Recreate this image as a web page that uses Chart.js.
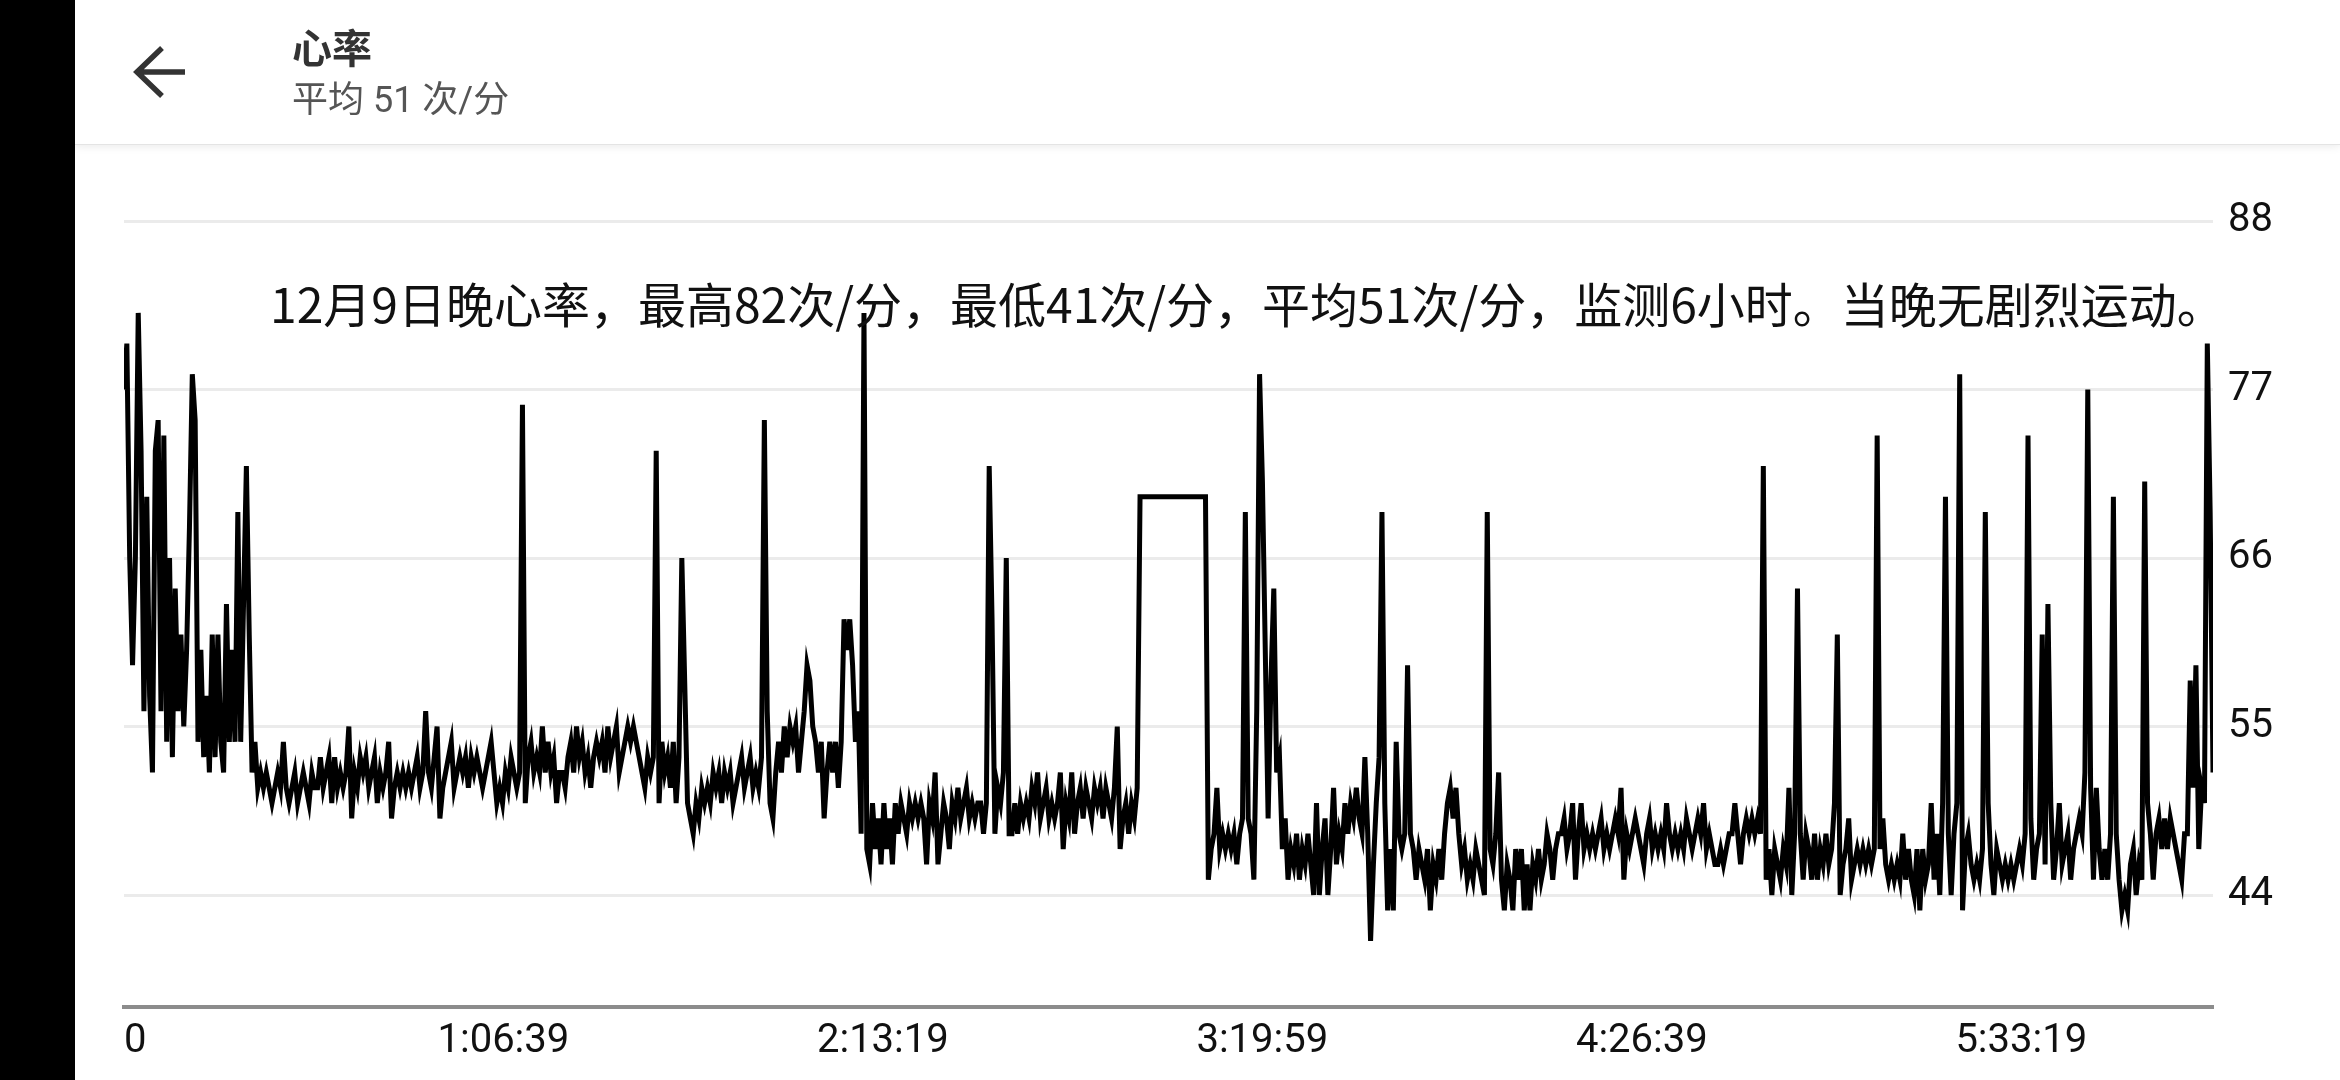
<!DOCTYPE html>
<html lang="zh-CN">

<head>
    <meta charset="UTF-8">
    <meta name="viewport" content="width=device-width, initial-scale=1.0">
    <title>心率</title>
    <style>
        html, body {
            margin: 0;
            padding: 0;
            width: 2340px;
            height: 1080px;
            overflow: hidden;
            background: #fff;
            font-family: "Roboto", "Noto Sans CJK SC", sans-serif;
        }
        .side-bar {
            position: absolute;
            left: 0;
            top: 0;
            width: 75px;
            height: 1080px;
            background: #000;
            z-index: 5;
        }
        .top-bar {
            position: absolute;
            left: 75px;
            top: 0;
            width: 2265px;
            height: 144px;
            background: #fff;
            border-bottom: 1px solid #e4e4e4;
            box-shadow: 0 2px 8px rgba(0, 0, 0, 0.08);
            z-index: 4;
        }
        .back {
            position: absolute;
            left: 56px;
            top: 44px;
        }
        .title-1 {
            position: absolute;
            left: 292px;
            top: 26px;
            font-size: 40px;
            line-height: 48px;
            font-weight: bold;
            color: #333;
        }
        .sub-title-1 {
            position: absolute;
            left: 292px;
            top: 78px;
            font-size: 36px;
            line-height: 44px;
            color: #555;
        }
        .chart-box {
            position: absolute;
            left: 0;
            top: 150px;
            width: 2340px;
            height: 930px;
        }
        .note {
            position: absolute;
            left: 270px;
            top: 272px;
            font-family: "Noto Sans CJK SC", sans-serif;
            font-size: 48px;
            line-height: 60px;
            color: #111;
            white-space: nowrap;
            z-index: 3;
        }
    </style>
    <script src="https://cdn.jsdelivr.net/npm/chart.js@4.4.1/dist/chart.umd.min.js"></script>
</head>

<body>
    <div class="side-bar"></div>
    <div class="top-bar">
        <svg class="back" width="60" height="56" viewBox="0 0 60 56">
            <path d="M 31 4 L 6 28 L 31 52 M 6 28 L 54 28" fill="none" stroke="#333" stroke-width="5.5" />
        </svg>
    </div>
    <div class="title-1" style="z-index: 6">心率</div>
    <div class="sub-title-1" style="z-index: 6">平均 51 次/分</div>
    <div class="chart-box">
        <canvas id="chartHeartRate"></canvas>
    </div>
    <div class="note">12月9日晚心率，最高82次/分，最低41次/分，平均51次/分，监测6小时。当晚无剧烈运动。</div>

    <script>
        // one reading every 30 seconds
        var sampleSec = 30
        var bpm = [
            77, 80, 66, 59, 66, 82, 73, 56, 70, 57,
            52, 73, 75, 56, 74, 54, 66, 53, 64, 56,
            61, 55, 60, 68, 78, 75, 54, 60, 53, 57,
            52, 61, 53, 61, 54, 52, 63, 54, 60, 54,
            69, 54, 63, 72, 61, 52, 54, 51, 52, 51,
            52, 51, 50, 51, 52, 51, 54, 51, 50, 51,
            52, 50, 51, 52, 51, 50, 52, 51, 51, 53,
            51, 52, 53, 50, 53, 51, 52, 51, 52, 55,
            49, 52, 51, 53, 52, 53, 51, 52, 53, 50,
            52, 51, 52, 54, 49, 51, 52, 51, 52, 51,
            52, 51, 52, 53, 51, 52, 56, 52, 51, 53,
            55, 49, 51, 52, 53, 54, 51, 52, 53, 52,
            53, 51, 53, 52, 53, 52, 51, 52, 53, 54,
            52, 50, 51, 50, 52, 51, 53, 52, 51, 52,
            76, 50, 53, 54, 52, 53, 52, 55, 52, 54,
            52, 53, 50, 52, 52, 51, 53, 54, 52, 55,
            53, 54, 52, 53, 51, 53, 54, 53, 54, 52,
            55, 53, 54, 55, 52, 53, 54, 55, 54, 55,
            54, 53, 52, 51, 53, 52, 53, 73, 50, 54,
            52, 53, 51, 54, 50, 53, 66, 58, 50, 49,
            48, 50, 49, 51, 50, 51, 50, 52, 51, 52,
            50, 52, 51, 52, 50, 51, 52, 53, 51, 52,
            53, 51, 52, 51, 53, 75, 56, 50, 49, 52,
            54, 52, 55, 53, 55, 54, 55, 52, 54, 56,
            59, 58, 55, 54, 52, 54, 49, 52, 54, 52,
            54, 51, 54, 62, 60, 62, 59, 54, 56, 48,
            82, 47, 46, 50, 47, 49, 46, 50, 47, 49,
            46, 50, 48, 50, 49, 48, 50, 49, 50, 49,
            50, 49, 46, 50, 49, 52, 46, 48, 50, 49,
            47, 50, 49, 51, 49, 50, 51, 49, 50, 49,
            50, 50, 48, 50, 72, 62, 48, 51, 50, 52,
            66, 48, 48, 50, 48, 50, 49, 50, 49, 51,
            50, 52, 49, 50, 51, 49, 50, 49, 50, 52,
            47, 50, 49, 52, 48, 50, 51, 49, 51, 50,
            49, 51, 50, 51, 49, 51, 50, 49, 51, 55,
            47, 49, 50, 48, 50, 49, 51, 70, 70, 70,
            70, 70, 70, 70, 70, 70, 70, 70, 70, 70,
            70, 70, 70, 70, 70, 70, 70, 70, 70, 70,
            70, 45, 47, 48, 51, 47, 48, 47, 48, 47,
            48, 46, 48, 49, 69, 49, 48, 45, 56, 78,
            71, 60, 49, 58, 64, 52, 53, 47, 49, 45,
            47, 46, 48, 45, 47, 46, 48, 46, 44, 50,
            44, 47, 49, 44, 47, 51, 46, 48, 47, 50,
            48, 50, 49, 51, 49, 48, 53, 48, 41, 46,
            50, 53, 69, 50, 43, 47, 43, 54, 48, 47,
            48, 59, 48, 47, 45, 47, 46, 45, 47, 43,
            46, 45, 47, 45, 48, 50, 51, 49, 51, 48,
            46, 47, 45, 46, 45, 47, 46, 45, 44, 69,
            47, 46, 48, 52, 45, 43, 46, 45, 43, 47,
            45, 47, 43, 46, 43, 46, 45, 47, 45, 46,
            48, 47, 45, 47, 48, 48, 49, 47, 48, 50,
            45, 48, 50, 47, 48, 47, 48, 47, 48, 49,
            47, 48, 47, 48, 49, 48, 51, 45, 48, 47,
            48, 49, 48, 47, 46, 48, 49, 47, 48, 47,
            48, 47, 50, 48, 47, 48, 47, 48, 47, 49,
            48, 47, 48, 49, 48, 50, 47, 48, 47, 46,
            46, 47, 46, 47, 48, 48, 50, 48, 46, 48,
            49, 48, 49, 48, 49, 48, 72, 45, 47, 44,
            47, 46, 45, 47, 46, 51, 44, 48, 64, 48,
            45, 48, 47, 45, 48, 45, 47, 46, 48, 46,
            47, 50, 61, 44, 46, 47, 49, 45, 46, 47,
            46, 47, 46, 47, 46, 47, 74, 47, 49, 46,
            45, 46, 45, 46, 45, 48, 45, 47, 45, 44,
            47, 43, 47, 45, 46, 50, 45, 48, 44, 50,
            70, 48, 44, 48, 50, 78, 43, 47, 48, 46,
            45, 46, 45, 47, 69, 50, 46, 44, 47, 46,
            45, 46, 45, 46, 45, 46, 47, 46, 48, 74,
            49, 45, 47, 48, 61, 46, 63, 50, 45, 47,
            50, 46, 47, 48, 45, 47, 48, 49, 48, 52,
            77, 51, 45, 51, 47, 45, 47, 45, 48, 70,
            48, 45, 43, 44, 43, 46, 47, 44, 46, 45,
            71, 50, 48, 45, 48, 49, 47, 49, 47, 49,
            48, 47, 46, 45, 48, 48, 58, 51, 59, 47,
            51, 50, 80, 69, 52
        ]
        var xTickValues = [0, 3999, 7999, 11999, 15999, 19999]
        var xTickLabels = ['0', '1:06:39', '2:13:19', '3:19:59', '4:26:39', '5:33:19']
        var yTickValues = [44, 55, 66, 77, 88]

        var points = bpm.map(function (v, i) {
            return { x: i * sampleSec, y: v }
        })

        var ctx = document.getElementById('chartHeartRate').getContext('2d');
        var heartChart = new Chart(ctx, {
            type: 'line',
            data: {
                datasets: [{
                    label: '心率',
                    data: points,
                    borderColor: '#000',
                    borderWidth: 5,
                    pointRadius: 0,
                    tension: 0,
                    fill: false
                }]
            },
            options: {
                responsive: true,
                maintainAspectRatio: false,
                animation: false,
                layout: {
                    padding: { left: 124, right: 0, top: 71, bottom: 0 }
                },
                plugins: {
                    legend: { display: false },
                    tooltip: { enabled: false }
                },
                scales: {
                    x: {
                        type: 'linear',
                        min: 0,
                        max: (bpm.length - 1) * sampleSec,
                        grid: { display: false, drawTicks: false },
                        border: { display: true, color: '#8c8c8c', width: 4 },
                        afterBuildTicks: function (scale) {
                            // blank tick at the far end so only the "0" label gets pushed inward
                            scale.ticks = xTickValues.map(function (v) { return { value: v } })
                            scale.ticks.push({ value: scale.max })
                        },
                        afterFit: function (scale) {
                            scale.height = 73
                        },
                        ticks: {
                            autoSkip: false,
                            maxRotation: 0,
                            align: 'inner',
                            padding: 11,
                            color: '#111',
                            font: { family: 'Roboto', size: 40 },
                            callback: function (value) {
                                var k = xTickValues.indexOf(value)
                                return k < 0 ? '' : xTickLabels[k]
                            }
                        }
                    },
                    y: {
                        position: 'right',
                        min: 36.69,
                        max: 88,
                        grid: { color: '#ebebeb', lineWidth: 3, drawTicks: false },
                        border: { display: false },
                        afterBuildTicks: function (scale) {
                            scale.ticks = yTickValues.map(function (v) { return { value: v } })
                        },
                        afterFit: function (scale) {
                            scale.width = 127
                        },
                        ticks: {
                            padding: 15,
                            color: '#111',
                            font: { family: 'Roboto', size: 40 }
                        }
                    }
                }
            }
        })
    </script>
</body>

</html>
